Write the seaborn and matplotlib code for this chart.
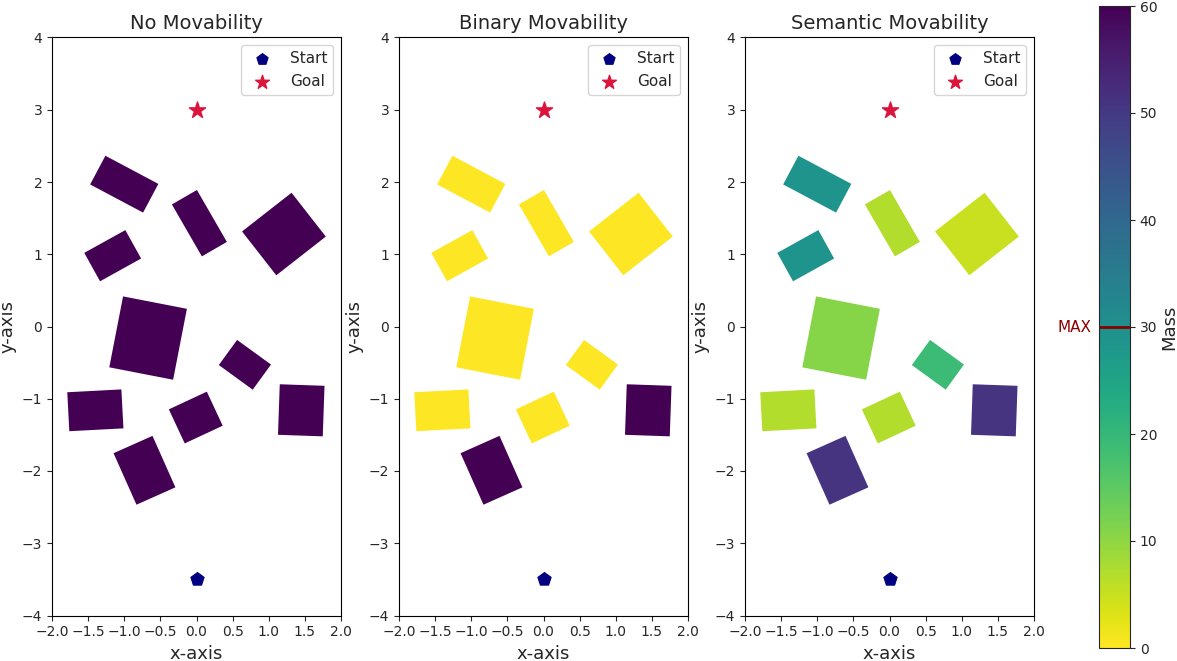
import numpy as np
import pandas as pd
import matplotlib
matplotlib.use("Agg")
import matplotlib.pyplot as plt
from matplotlib.patches import Rectangle
from matplotlib import cm, colors
import seaborn as sns

# Obstacle geometry (centre, size, rotation in degrees)
obs_cx = [-1.00, 0.04, 1.21, -1.16, -0.67, 0.67, -1.40, -0.01, 1.45, -0.72]
obs_cy = [1.97, 1.43, 1.28, 0.98, -0.16, -0.53, -1.16, -1.26, -1.16, -1.99]
obs_w = [0.83, 0.40, 0.87, 0.65, 0.90, 0.58, 0.75, 0.58, 0.62, 0.59]
obs_h = [0.45, 0.83, 0.77, 0.45, 1.00, 0.43, 0.54, 0.52, 0.70, 0.78]
obs_angle = [-28, 30, 38, 29, -11, -36, 3, 25, -2, 24]

# Semantic mass estimate of every obstacle
obs_mass = [29, 7, 5, 29, 11, 19, 7, 7, 51, 51]
MASS_MAX = 30
MASS_RANGE = (0, 60)

start_xy = (0.0, -3.5)
goal_xy = (0.0, 3.0)

titles = ["No Movability", "Binary Movability", "Semantic Movability"]

mass_none = [MASS_RANGE[1]] * len(obs_mass)
mass_binary = [MASS_RANGE[1] if m > MASS_MAX else MASS_RANGE[0] for m in obs_mass]
mass_sets = [mass_none, mass_binary, obs_mass]

sns.set_style("ticks")
plt.rcParams["font.family"] = ["DejaVu Sans"]

fig = plt.figure(figsize=(11.77, 6.61), dpi=100)
cmap = plt.get_cmap("viridis_r")
norm = colors.Normalize(vmin=MASS_RANGE[0], vmax=MASS_RANGE[1])

lefts = [52 / 1177, 399 / 1177, 745 / 1177]
ax_w = 289 / 1177
ax_b = 45 / 661
ax_h = 579 / 661

points = pd.DataFrame({
    "x": [start_xy[0], goal_xy[0]],
    "y": [start_xy[1], goal_xy[1]],
    "kind": ["Start", "Goal"],
})

for left, title, masses in zip(lefts, titles, mass_sets):
    ax = fig.add_axes([left, ax_b, ax_w, ax_h])
    for cx, cy, w, h, a, m in zip(obs_cx, obs_cy, obs_w, obs_h, obs_angle, masses):
        ax.add_patch(Rectangle((cx - w / 2, cy - h / 2), w, h, angle=a,
                               rotation_point="center",
                               facecolor=cmap(norm(m)), edgecolor="none"))
    sns.scatterplot(data=points[points.kind == "Start"], x="x", y="y", ax=ax,
                    marker="p", s=100, color="navy", edgecolor="navy",
                    label="Start", zorder=5)
    sns.scatterplot(data=points[points.kind == "Goal"], x="x", y="y", ax=ax,
                    marker="*", s=150, color="crimson", edgecolor="crimson",
                    label="Goal", zorder=5)
    ax.set_xlim(-2, 2)
    ax.set_ylim(-4, 4)
    ax.set_aspect("equal")
    ax.set_xticks(np.arange(-2, 2.01, 0.5))
    ax.set_yticks(np.arange(-4, 4.01, 1))
    ax.set_title(title, fontsize=14)
    ax.set_xlabel("x-axis", fontsize=13)
    ax.set_ylabel("y-axis", fontsize=13)
    ax.tick_params(labelsize=10)
    for s in ax.spines.values():
        s.set_visible(True)
        s.set_color("black")
        s.set_linewidth(0.8)
    ax.legend(loc="upper right", fontsize=11, markerscale=0.85)

cax = fig.add_axes([1099 / 1177, 13 / 661, 31 / 1177, 642 / 661])
sm = cm.ScalarMappable(norm=norm, cmap=cmap)
cbar = fig.colorbar(sm, cax=cax, ticks=np.arange(0, 61, 10))
cbar.set_label("Mass", fontsize=13, labelpad=2)
cbar.ax.axhline(MASS_MAX, color="darkred", linewidth=2)
cbar.ax.text(-0.25, MASS_MAX, "MAX", color="darkred", fontsize=11,
             ha="right", va="center", transform=cbar.ax.get_yaxis_transform())

fig.savefig("out.png", dpi=100)
